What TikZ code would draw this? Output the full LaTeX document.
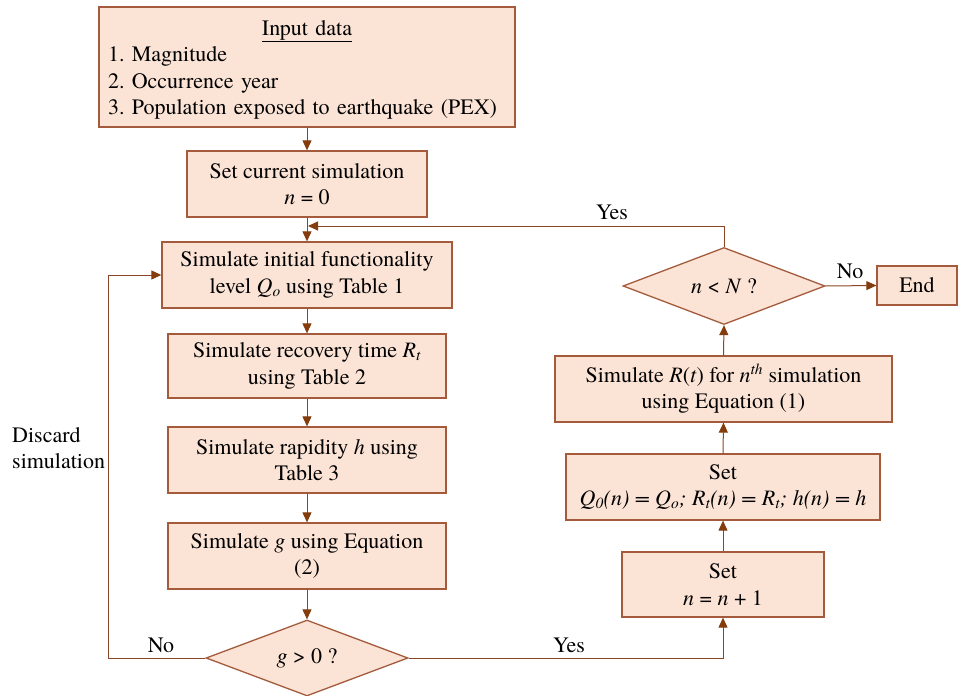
\documentclass[tikz,border=0pt]{standalone}
\usepackage{fontspec}
\setmainfont{texgyretermes}[Extension=.otf, UprightFont=*-regular, ItalicFont=*-italic, BoldFont=*-bold, BoldItalicFont=*-bolditalic]
\usetikzlibrary{arrows.meta,shapes.geometric}
\definecolor{boxfill}{HTML}{FBE3D6}
\definecolor{boxline}{HTML}{A35B3C}
\definecolor{arrline}{HTML}{8B4526}
\definecolor{arrtip}{HTML}{843C0C}
\tikzset{
  txt/.style={font=\fontsize{22}{26.5}\selectfont\frenchspacing},
  procbox/.style={txt, draw=boxline, fill=boxfill, line width=1.3pt, align=center, inner sep=0pt},
  decbox/.style={txt, draw=boxline, fill=boxfill, line width=1.3pt, shape=diamond, aspect=2.6, inner sep=0pt, minimum width=202pt, minimum height=77pt},
  conn/.style={draw=arrline, line width=1pt, -{Triangle[length=10pt,width=9pt,fill=arrtip,color=arrtip]}},
  lab/.style={txt, inner sep=0pt}
}
\begin{document}
\begin{tikzpicture}[x=1pt,y=-1pt]
\useasboundingbox (0,0) rectangle (962,696);
% boxes
\node[procbox, minimum width=416pt, minimum height=120pt, text width=398pt, align=left] (input) at (307,67) {};
\node[txt, text width=398pt, align=left, inner sep=0pt] (inputtxt) at (307,70)
  {{\centering\underline{Input data}\par}1. Magnitude\\2. Occurrence year\\3. Population exposed to earthquake (PEX)};
\node[procbox, minimum width=240pt, minimum height=66pt] (setcur) at (307,184) {Set current simulation\\\textit{n} = 0};
\node[procbox, minimum width=290pt, minimum height=66pt] (simq) at (307,275) {Simulate initial functionality\\level \textit{Q\textsubscript{o}} using Table 1};
\node[procbox, minimum width=278pt, minimum height=64pt] (simr) at (307,366) {Simulate recovery time \textit{R\textsubscript{t}}\\using Table 2};
\node[procbox, minimum width=278pt, minimum height=66pt] (simh) at (307,460) {Simulate rapidity \textit{h} using\\Table 3};
\node[procbox, minimum width=278pt, minimum height=66pt] (simg) at (307,556) {Simulate \textit{g} using Equation\\(2)};
\node[decbox, minimum height=76pt] (dg) at (307,658) {\textit{g} > 0 ?};
\node[procbox, minimum width=202pt, minimum height=65pt] (setn) at (723,584.5) {Set\\\textit{n} = \textit{n} + 1};
\node[procbox, minimum width=314pt, minimum height=66pt] (setq) at (723,487) {Set\\\textit{Q\textsubscript{0}(n) = Q\textsubscript{o}; R\textsubscript{t}(n) = R\textsubscript{t}; h(n) = h}};
\node[procbox, minimum width=337pt, minimum height=66pt] (simrt) at (723.5,389) {Simulate \textit{R}(\textit{t}) for \textit{n\textsuperscript{th}} simulation\\using Equation (1)};
\node[decbox] (dn) at (724,286) {\textit{n} < \textit{N} ?};
\node[procbox, minimum width=80pt, minimum height=39pt] (endb) at (917,285.5) {End};
% helper coordinates
\coordinate (discB) at (108,658);
\coordinate (discT) at (108,275);
\coordinate (yesR) at (723,658);
\coordinate (loopR) at (724,226);
\coordinate (loopL) at (308,226);
% connectors
\draw[conn] (input.south) -- (setcur.north);
\draw[conn] (setcur.south) -- (simq.north);
\draw[conn] (simq.south) -- (simr.north);
\draw[conn] (simr.south) -- (simh.north);
\draw[conn] (simh.south) -- (simg.north);
\draw[conn] (simg.south) -- (dg.north);
\draw[conn] (dg.west) -- (discB) -- (discT) -- (simq.west);
\draw[conn] (dg.east) -- (yesR) -- (setn.south);
\draw[conn] (setn.north) -- (setq.south);
\draw[conn] (setq.north) -- (simrt.south);
\draw[conn] (simrt.north) -- (dn.south);
\draw[conn] (dn.east) -- (endb.west);
\draw[conn] (dn.north) -- (loopR) -- (loopL);
% labels
\node[lab] (lno1) at (161,645) {No};
\node[lab] (lyes1) at (569,645) {Yes};
\node[lab] (lno2) at (850,271) {No};
\node[lab] (lyes2) at (612,212) {Yes};
\node[lab, anchor=west, align=left] (ldisc) at (12,448) {Discard\\simulation};
\end{tikzpicture}
\end{document}
